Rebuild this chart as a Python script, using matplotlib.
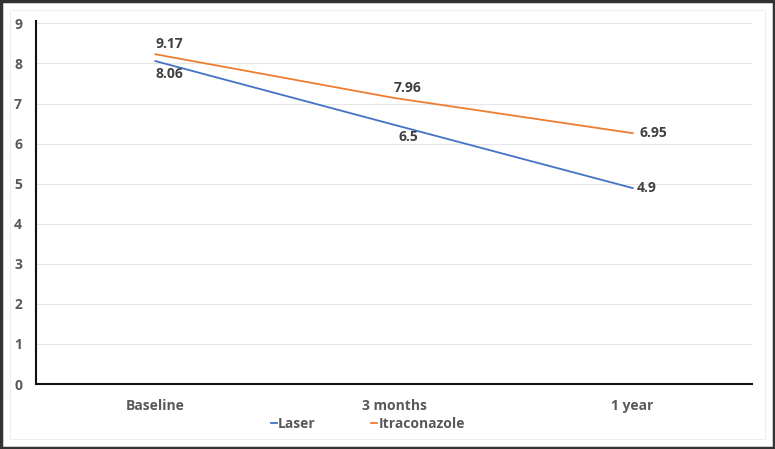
import numpy as np
import matplotlib.pyplot as plt
from matplotlib.patches import Rectangle

categories = ['Baseline', '3 months', '1 year']
laser = [8.06, 6.47, 4.89]
itraconazole = [8.23, 7.14, 6.26]
laser_labels = ['8.06', '6.5', '4.9']
itra_labels = ['9.17', '7.96', '6.95']
y_ticks = [0, 1, 2, 3, 4, 5, 6, 7, 8, 9]

plt.rcParams['font.family'] = ['Open Sans', 'DejaVu Sans']

fig = plt.figure(figsize=(7.75, 4.49), dpi=100)
ax = fig.add_axes([36 / 775, 1 - 384 / 449, (752 - 36) / 775, (384 - 21) / 449])

x = np.arange(len(categories))
ax.plot(x, laser, color='#4472C4', lw=1.3, label='Laser')
ax.plot(x, itraconazole, color='#ED7D31', lw=1.3, label='Itraconazole')

txt = dict(fontsize=10, fontweight='bold', color='#404040')
# laser labels: below for first two, right for last
for i, (v, s) in enumerate(zip(laser, laser_labels)):
    if i < 2:
        ax.annotate(s, (x[i], v), xytext=(10, -4), textcoords='offset points',
                    ha='center', va='top', **txt)
    else:
        ax.annotate(s, (x[i], v), xytext=(3, 0), textcoords='offset points',
                    ha='left', va='center', **txt)
for i, (v, s) in enumerate(zip(itraconazole, itra_labels)):
    if i < 2:
        ax.annotate(s, (x[i], v), xytext=(10, 2), textcoords='offset points',
                    ha='center', va='bottom', **txt)
    else:
        ax.annotate(s, (x[i], v), xytext=(5, 0), textcoords='offset points',
                    ha='left', va='center', **txt)

tick_font = dict(fontsize=10, fontweight='bold', color='#595959')
ax.set_xlim(-0.5, 2.5)
ax.set_ylim(0, 9.06)
ax.set_yticks(y_ticks)
ax.set_yticklabels([str(t) for t in y_ticks], **tick_font)
ax.set_xticks(x)
ax.set_xticklabels(categories, **tick_font)
ax.grid(axis='y', color='#e6e6e6', lw=0.8)
ax.set_axisbelow(True)
ax.tick_params(length=0)
ax.tick_params(axis='y', pad=10)
ax.tick_params(axis='x', pad=11)
for sp in ['top', 'right']:
    ax.spines[sp].set_visible(False)
for sp in ['left', 'bottom']:
    ax.spines[sp].set_color('#111111')
    ax.spines[sp].set_linewidth(1.5)

leg = ax.legend(loc='center', bbox_to_anchor=(368 / 775, 1 - 424 / 449),
                bbox_transform=fig.transFigure, ncol=2, frameon=False,
                handlelength=0.4, handletextpad=0.1, columnspacing=4,
                prop={'size': 10, 'weight': 'bold'})
for t in leg.get_texts():
    t.set_color('#595959')

# chart area border and outer frame
fig.patches.append(Rectangle((10 / 775, 10 / 449), 1 - 20 / 775, 1 - 20 / 449,
                             transform=fig.transFigure, fill=False,
                             ec='#eeeeee', lw=0.8, zorder=-1))
fig.patches.append(Rectangle((0.001, 0.002), 0.998, 0.996,
                             transform=fig.transFigure, fill=False,
                             ec='#333333', lw=2.5))

fig.savefig('out.png', dpi=100)
